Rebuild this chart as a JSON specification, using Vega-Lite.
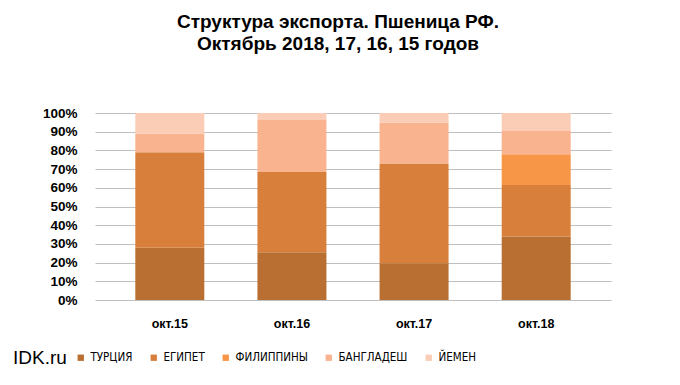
{
  "$schema": "https://vega.github.io/schema/vega-lite/v6.json",
  "autosize": {"type": "none"},
  "width": 516,
  "height": 187,
  "padding": {"left": 95, "top": 113, "right": 69, "bottom": 85},
  "background": "white",
  "title": {
    "text": ["Структура экспорта. Пшеница РФ.", "Октябрь 2018, 17, 16, 15 годов"],
    "font": "Liberation Sans",
    "fontSize": 19,
    "fontWeight": "bold",
    "color": "#000000",
    "anchor": "middle",
    "dx": -15,
    "offset": 52,
    "lineHeight": 22
  },
  "data": {
    "values": [
      {"month": "окт.15", "country": "ТУРЦИЯ", "rank": 1, "share": 28},
      {"month": "окт.15", "country": "ЕГИПЕТ", "rank": 2, "share": 51},
      {"month": "окт.15", "country": "БАНГЛАДЕШ", "rank": 4, "share": 10},
      {"month": "окт.15", "country": "ЙЕМЕН", "rank": 5, "share": 11},
      {"month": "окт.16", "country": "ТУРЦИЯ", "rank": 1, "share": 25.5},
      {"month": "окт.16", "country": "ЕГИПЕТ", "rank": 2, "share": 43},
      {"month": "окт.16", "country": "БАНГЛАДЕШ", "rank": 4, "share": 27.7},
      {"month": "окт.16", "country": "ЙЕМЕН", "rank": 5, "share": 3.8},
      {"month": "окт.17", "country": "ТУРЦИЯ", "rank": 1, "share": 19.6},
      {"month": "окт.17", "country": "ЕГИПЕТ", "rank": 2, "share": 53.4},
      {"month": "окт.17", "country": "БАНГЛАДЕШ", "rank": 4, "share": 21.8},
      {"month": "окт.17", "country": "ЙЕМЕН", "rank": 5, "share": 5.2},
      {"month": "окт.18", "country": "ТУРЦИЯ", "rank": 1, "share": 33.9},
      {"month": "окт.18", "country": "ЕГИПЕТ", "rank": 2, "share": 27.6},
      {"month": "окт.18", "country": "ФИЛИППИНЫ", "rank": 3, "share": 16.5},
      {"month": "окт.18", "country": "БАНГЛАДЕШ", "rank": 4, "share": 12.4},
      {"month": "окт.18", "country": "ЙЕМЕН", "rank": 5, "share": 9.6}
    ]
  },
  "mark": {"type": "bar"},
  "encoding": {
    "x": {
      "field": "month",
      "type": "nominal",
      "sort": ["окт.15", "окт.16", "окт.17", "окт.18"],
      "scale": {"paddingInner": 0.435, "paddingOuter": 0.33},
      "axis": {
        "title": null,
        "labelAngle": 0,
        "domain": false,
        "ticks": false,
        "labelFont": "Liberation Sans",
        "labelFontSize": 12.5,
        "labelFontWeight": "bold",
        "labelColor": "#000000",
        "labelDx": -17,
        "labelPadding": 17
      }
    },
    "y": {
      "field": "share",
      "type": "quantitative",
      "stack": "normalize",
      "scale": {"domain": [0, 1]},
      "axis": {
        "title": null,
        "values": [0, 0.1, 0.2, 0.3, 0.4, 0.5, 0.6, 0.7, 0.8, 0.9, 1],
        "format": ".0%",
        "domain": false,
        "ticks": false,
        "labelFont": "Liberation Sans",
        "labelFontSize": 13.5,
        "labelFontWeight": "bold",
        "labelColor": "#000000",
        "labelPadding": 18,
        "gridColor": "#BFBFBF",
        "gridWidth": 1
      }
    },
    "color": {
      "field": "country",
      "type": "nominal",
      "sort": ["ТУРЦИЯ", "ЕГИПЕТ", "ФИЛИППИНЫ", "БАНГЛАДЕШ", "ЙЕМЕН"],
      "scale": {
        "domain": ["ТУРЦИЯ", "ЕГИПЕТ", "ФИЛИППИНЫ", "БАНГЛАДЕШ", "ЙЕМЕН"],
        "range": ["#B96F32", "#D8803B", "#F79646", "#F9B38F", "#FBCDB6"]
      },
      "legend": {
        "title": "IDK.ru",
        "titleOrient": "left",
        "titleFont": "Liberation Sans",
        "titleFontSize": 19,
        "titleFontWeight": "normal",
        "titleColor": "#000000",
        "titlePadding": 8,
        "titleAnchor": "middle",
        "orient": "none",
        "direction": "horizontal",
        "gridAlign": "none",
        "legendX": -82,
        "legendY": 239,
        "symbolType": "square",
        "symbolSize": 40,
        "symbolStrokeWidth": 0,
        "labelFont": "DejaVu Sans Condensed",
        "labelFontSize": 11.5,
        "labelColor": "#000000",
        "columnPadding": 15,
        "labelOffset": 4
      }
    },
    "order": {"field": "rank", "type": "quantitative", "sort": "ascending"}
  },
  "config": {
    "view": {"stroke": null}
  }
}
